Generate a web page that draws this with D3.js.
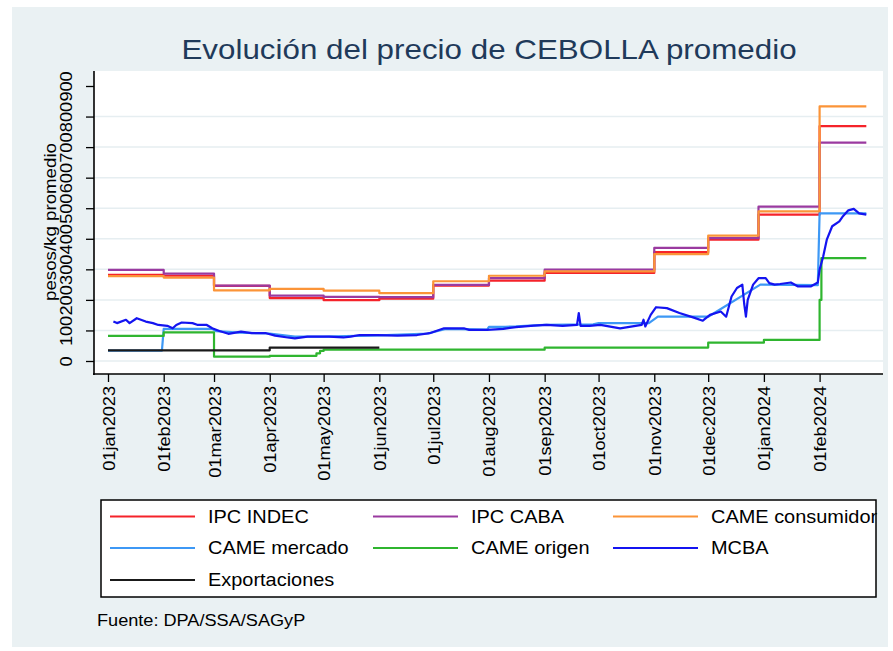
<!DOCTYPE html>
<html>
<head>
<meta charset="utf-8">
<script src="https://cdn.jsdelivr.net/npm/d3@7"></script>
<style>
	body { margin: 0; background: white; }
	text { font-family: "Liberation Sans", Arial, sans-serif; }
</style>
</head>
<body>
<div id="chart"></div>
<script>
// monthly series (value holds from the date on)
const stepDates = ["2023-01-01", "2023-02-01", "2023-03-01", "2023-04-01", "2023-05-01", "2023-06-01", "2023-07-01",
	"2023-08-01", "2023-09-01", "2023-10-01", "2023-11-01", "2023-12-01", "2023-12-29", "2024-02-01"]
const ipcIndec = [282, 279, 246, 206, 199, 204, 247, 263, 288, 288, 356, 397, 479, 769]
const ipcCaba = [298, 286, 247, 214, 210, 209, 249, 271, 299, 299, 370, 402, 505, 715]
const cameConsumidor = [278, 273, 231, 236, 230, 222, 261, 279, 293, 293, 350, 410, 490, 833]
const lastDate = "2024-02-27"

const cameOrigenDates = ["2023-01-01", "2023-02-01", "2023-03-01", "2023-04-01", "2023-04-27", "2023-04-29", "2023-05-01",
	"2023-09-01", "2023-12-01", "2024-01-01", "2024-02-01", "2024-02-02"]
const cameOrigen = [82, 94, 14, 17, 25, 33, 37, 44, 60, 69, 200, 337]

const exportDates = ["2023-01-01", "2023-04-01"]
const exportaciones = [35, 44]
const exportEnd = "2023-06-01"

const cameMercadoDates = ["2023-01-01", "2023-01-31", "2023-02-01", "2023-02-28", "2023-03-02", "2023-03-15", "2023-04-01",
	"2023-04-15", "2023-05-01", "2023-06-01", "2023-06-28", "2023-07-08", "2023-07-31", "2023-08-01", "2023-08-10",
	"2023-08-16", "2023-09-01", "2023-09-28", "2023-10-01", "2023-10-29", "2023-11-03", "2023-12-01", "2023-12-30",
	"2024-01-31", "2024-02-01", "2024-02-27"]
const cameMercado = [34, 34, 105, 105, 98, 93, 90, 80, 80, 84, 90, 105, 103, 112, 112, 113, 118, 120, 124, 124, 145, 145,
	250, 248, 483, 483]

const mcbaDates = ["2023-01-04", "2023-01-06", "2023-01-11", "2023-01-13", "2023-01-17", "2023-01-22", "2023-01-26",
	"2023-01-29", "2023-02-03", "2023-02-06", "2023-02-08", "2023-02-11", "2023-02-17", "2023-02-20", "2023-02-25",
	"2023-02-28", "2023-03-04", "2023-03-09", "2023-03-16", "2023-03-22", "2023-03-30", "2023-04-04", "2023-04-11",
	"2023-04-15", "2023-04-22", "2023-05-04", "2023-05-12", "2023-05-16", "2023-05-21", "2023-05-31", "2023-06-11",
	"2023-06-22", "2023-06-29", "2023-07-07", "2023-07-18", "2023-07-21", "2023-07-31", "2023-08-09", "2023-08-16",
	"2023-08-26", "2023-09-02", "2023-09-11", "2023-09-19", "2023-09-20", "2023-09-21", "2023-09-26", "2023-10-02",
	"2023-10-13", "2023-10-25", "2023-10-26", "2023-10-27", "2023-10-30", "2023-11-02", "2023-11-08", "2023-11-15",
	"2023-11-23", "2023-11-28", "2023-12-02", "2023-12-08", "2023-12-11", "2023-12-14", "2023-12-17", "2023-12-20",
	"2023-12-21", "2023-12-22", "2023-12-23", "2023-12-26", "2023-12-29", "2024-01-02", "2024-01-04", "2024-01-07",
	"2024-01-10", "2024-01-16", "2024-01-20", "2024-01-27", "2024-01-31", "2024-02-01", "2024-02-03", "2024-02-05",
	"2024-02-08", "2024-02-12", "2024-02-14", "2024-02-17", "2024-02-20", "2024-02-23", "2024-02-27"]
const mcba = [129, 124, 135, 124, 140, 129, 124, 118, 115, 107, 118, 126, 124, 118, 118, 107, 98, 89, 96, 91, 91, 83, 77,
	74, 80, 80, 77, 80, 85, 85, 83, 85, 91, 107, 107, 102, 102, 105, 111, 116, 118, 115, 118, 157, 115, 115, 118, 107,
	118, 135, 113, 151, 176, 173, 157, 142, 132, 151, 162, 145, 211, 239, 250, 189, 145, 200, 250, 271, 271, 255, 250,
	252, 257, 244, 244, 257, 299, 342, 397, 441, 457, 474, 493, 498, 483, 479]

const yTicks = [0, 100, 200, 300, 400, 500, 600, 700, 800, 900]
const xTickDates = ["2023-01-01", "2023-02-01", "2023-03-01", "2023-04-01", "2023-05-01", "2023-06-01", "2023-07-01",
	"2023-08-01", "2023-09-01", "2023-10-01", "2023-11-01", "2023-12-01", "2024-01-01", "2024-02-01"]
const xTickLabels = ["01jan2023", "01feb2023", "01mar2023", "01apr2023", "01may2023", "01jun2023", "01jul2023",
	"01aug2023", "01sep2023", "01oct2023", "01nov2023", "01dec2023", "01jan2024", "01feb2024"]

const seriesNames = ["IPC INDEC", "IPC CABA", "CAME consumidor", "CAME mercado", "CAME origen", "MCBA", "Exportaciones"]
const seriesColors = ["#f5232a", "#9a3aa0", "#fb9438", "#3d98f5", "#2fb52f", "#1414f0", "#1a1a1a"]

const parse = d3.utcParse("%Y-%m-%d")
const stretch = "scale(1.1,1)"

const svg = d3.select("#chart")
	.append("svg")
	.attr("width", 893)
	.attr("height", 651)

svg.append("rect")
	.attr("x", 12)
	.attr("y", 7)
	.attr("width", 876)
	.attr("height", 640)
	.attr("fill", "#eaf1f3")

svg.append("rect")
	.attr("x", 94)
	.attr("y", 71)
	.attr("width", 789)
	.attr("height", 303)
	.attr("fill", "white")

const xScale = d3.scaleUtc()
	.domain([parse("2023-01-01"), parse("2024-02-01")])
	.range([108, 819.6])

const yScale = d3.scaleLinear()
	.domain([0, 900])
	.range([361, 86])

// grid
svg.append("g")
	.selectAll("line")
	.data(yTicks.filter(d => d < 900))
	.enter()
	.append("line")
	.attr("x1", 94)
	.attr("x2", 883)
	.attr("y1", d => yScale(d))
	.attr("y2", d => yScale(d))
	.attr("stroke", "#e6eef1")
	.attr("stroke-width", 1.5)

// series
function stepPoints(dates, values, end) {
	const pts = dates.map((d, i) => ({date: parse(d), value: values[i]}))
	pts.push({date: parse(end), value: values[values.length - 1]})
	return pts
}
function linePoints(dates, values) {
	return dates.map((d, i) => ({date: parse(d), value: values[i]}))
}

const series = [
	{pts: stepPoints(stepDates, ipcIndec, lastDate), step: true},
	{pts: stepPoints(stepDates, ipcCaba, lastDate), step: true},
	{pts: stepPoints(stepDates, cameConsumidor, lastDate), step: true},
	{pts: linePoints(cameMercadoDates, cameMercado), step: false},
	{pts: stepPoints(cameOrigenDates, cameOrigen, lastDate), step: true},
	{pts: linePoints(mcbaDates, mcba), step: false},
	{pts: stepPoints(exportDates, exportaciones, exportEnd), step: true}
]

series.forEach((s, i) => {
	const line = d3.line()
		.x(d => xScale(d.date))
		.y(d => yScale(d.value))
		.curve(s.step ? d3.curveStepAfter : d3.curveLinear)
	svg.append("path")
		.datum(s.pts)
		.attr("d", line)
		.attr("fill", "none")
		.attr("stroke", seriesColors[i])
		.attr("stroke-width", 2.2)
		.attr("stroke-linejoin", "round")
})

// axes
const yAxis = svg.append("g")
	.attr("transform", "translate(94,0)")
	.call(d3.axisLeft(yScale).tickValues(yTicks).tickSize(8).tickFormat(d3.format("d")))
yAxis.select(".domain").remove()
yAxis.selectAll("line").attr("stroke", "#000").attr("stroke-width", 1.3)
yAxis.selectAll("text")
	.attr("x", null)
	.attr("dy", null)
	.attr("text-anchor", "middle")
	.attr("fill", "#000")
	.attr("font-size", 16.5)
	.attr("font-family", "Liberation Sans, Arial, sans-serif")
	.attr("transform", "translate(-22,0) rotate(-90) " + stretch)

svg.append("line")
	.attr("x1", 94).attr("x2", 94)
	.attr("y1", 71).attr("y2", 375)
	.attr("stroke", "#000")
	.attr("stroke-width", 1.6)

const xAxis = svg.append("g")
	.attr("transform", "translate(0,374)")
	.call(d3.axisBottom(xScale)
		.tickValues(xTickDates.map(parse))
		.tickSize(8)
		.tickFormat((d, i) => xTickLabels[i]))
xAxis.select(".domain").remove()
xAxis.selectAll("line").attr("stroke", "#000").attr("stroke-width", 1.3)
xAxis.selectAll("text")
	.attr("x", null)
	.attr("y", null)
	.attr("dy", null)
	.attr("text-anchor", "end")
	.attr("fill", "#000")
	.attr("font-size", 16.5)
	.attr("font-family", "Liberation Sans, Arial, sans-serif")
	.attr("transform", "translate(6,12) rotate(-90) " + stretch)

svg.append("line")
	.attr("x1", 93).attr("x2", 883)
	.attr("y1", 374).attr("y2", 374)
	.attr("stroke", "#000")
	.attr("stroke-width", 1.6)

// title and axis title
svg.append("g")
	.attr("transform", "translate(489,59)")
	.append("text")
	.attr("transform", "scale(1.12,1)")
	.attr("text-anchor", "middle")
	.attr("font-size", 28)
	.attr("fill", "#1f3a5a")
	.text("Evolución del precio de CEBOLLA promedio")

svg.append("g")
	.attr("transform", "translate(56,222) rotate(-90)")
	.append("text")
	.attr("transform", stretch)
	.attr("text-anchor", "middle")
	.attr("font-size", 17)
	.attr("fill", "#000")
	.text("pesos/kg promedio")

// legend
svg.append("rect")
	.attr("x", 101)
	.attr("y", 500)
	.attr("width", 775)
	.attr("height", 97)
	.attr("fill", "white")
	.attr("stroke", "#000")
	.attr("stroke-width", 1.5)

const colX = [110, 373, 613]
const rowY = [516.5, 548, 580]
seriesNames.forEach((name, i) => {
	const lx = colX[i % 3]
	const ly = rowY[Math.floor(i / 3)]
	svg.append("line")
		.attr("x1", lx).attr("x2", lx + 85)
		.attr("y1", ly).attr("y2", ly)
		.attr("stroke", seriesColors[i])
		.attr("stroke-width", 2.2)
	svg.append("g")
		.attr("transform", "translate(" + (lx + 98) + "," + (ly + 6) + ")")
		.append("text")
		.attr("transform", "scale(1.14,1)")
		.attr("font-size", 17.5)
		.attr("fill", "#000")
		.text(name)
})

svg.append("g")
	.attr("transform", "translate(97,626)")
	.append("text")
	.attr("transform", stretch)
	.attr("font-size", 16.5)
	.attr("fill", "#000")
	.text("Fuente: DPA/SSA/SAGyP")
</script>
</body>
</html>
